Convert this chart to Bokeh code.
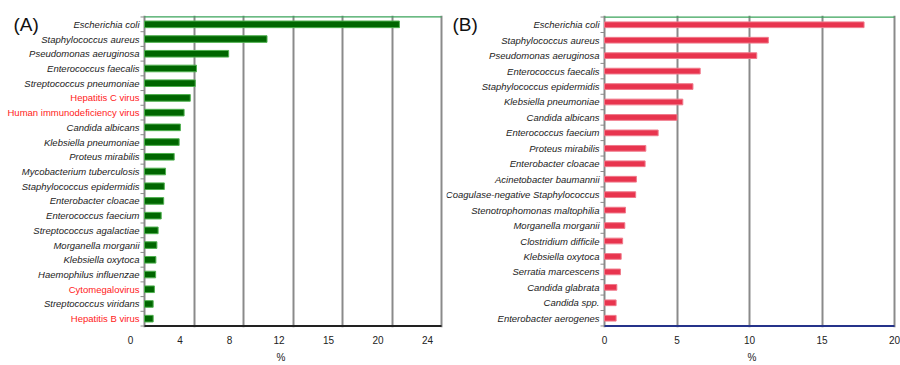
from bokeh.plotting import figure
from bokeh.models import (Range1d, FactorRange, FixedTicker, LinearAxis,
                          ColumnDataSource, Grid, Title)
from bokeh.core.properties import value
from bokeh.transform import dodge
from bokeh.layouts import row
from bokeh.embed import file_html
from bokeh.resources import INLINE

# ---------------- data ----------------
species_a = [
    "Escherichia coli", "Staphylococcus aureus", "Pseudomonas aeruginosa",
    "Enterococcus faecalis", "Streptococcus pneumoniae", "Hepatitis C virus",
    "Human immunodeficiency virus", "Candida albicans", "Klebsiella pneumoniae",
    "Proteus mirabilis", "Mycobacterium tuberculosis", "Staphylococcus epidermidis",
    "Enterobacter cloacae", "Enterococcus faecium", "Streptococcus agalactiae",
    "Morganella morganii", "Klebsiella oxytoca", "Haemophilus influenzae",
    "Cytomegalovirus", "Streptococcus viridans", "Hepatitis B virus",
]
values_a = [20.6, 9.9, 6.8, 4.2, 4.1, 3.7, 3.2, 2.9, 2.8, 2.4, 1.7, 1.6, 1.55,
            1.35, 1.1, 1.0, 0.92, 0.9, 0.8, 0.7, 0.7]
viruses_a = ["Hepatitis C virus", "Human immunodeficiency virus",
             "Cytomegalovirus", "Hepatitis B virus"]
ticks_a = [0, 4, 8, 12, 16, 20, 24]
tick_labels_a = ["0", "4", "8", "12", "15", "20", "24"]

species_b = [
    "Escherichia coli", "Staphylococcus aureus", "Pseudomonas aeruginosa",
    "Enterococcus faecalis", "Staphylococcus epidermidis", "Klebsiella pneumoniae",
    "Candida albicans", "Enterococcus faecium", "Proteus mirabilis",
    "Enterobacter cloacae", "Acinetobacter baumannii",
    "Coagulase-negative Staphylococcus", "Stenotrophomonas maltophilia",
    "Morganella morganii", "Clostridium difficile", "Klebsiella oxytoca",
    "Serratia marcescens", "Candida glabrata", "Candida spp.",
    "Enterobacter aerogenes",
]
values_b = [17.9, 11.3, 10.5, 6.6, 6.1, 5.4, 5.0, 3.7, 2.85, 2.8, 2.2, 2.15,
            1.45, 1.4, 1.25, 1.15, 1.1, 0.85, 0.8, 0.8]
viruses_b = []
ticks_b = [0, 5, 10, 15, 20]
tick_labels_b = ["0", "5", "10", "15", "20"]

FONT = "Liberation Sans"
GRID = "#8a8a8a"
TOPLINE = "#3aa35a"
TEXT = "#222222"


def panel(names, vals, red, ticks, tick_labels, label_shift, fill, edge,
          bottom_color, letter, W, px0, pxE, top_b, bar_h, letter_dx, pct_x):
    x_max = ticks[-1]
    scale = (pxE - px0) / x_max
    xs = -px0 / scale
    xe = x_max + (W - pxE) / scale
    yr = FactorRange(factors=list(reversed(names)), range_padding=0.1,
                     range_padding_units="absolute")
    p = figure(width=W, height=365, x_range=Range1d(xs, xe), y_range=yr,
               x_axis_location=None, y_axis_location=None,
               output_backend="svg", toolbar_location=None,
               min_border_left=0, min_border_right=0,
               min_border_top=top_b, min_border_bottom=38)
    p.outline_line_color = None
    p.background_fill_color = "white"
    p.border_fill_color = "white"
    for g in p.grid:
        g.visible = False
    p.add_layout(Grid(dimension=0, ticker=FixedTicker(ticks=ticks),
                      grid_line_color=GRID, grid_line_width=2), "center")

    src = ColumnDataSource(dict(
        name=names, val=vals,
        color=["#ff1a1a" if n in red else TEXT for n in names],
        style=["normal" if n in red else "italic" for n in names],
        zero=[0] * len(names),
        tick=[-4 / scale] * len(names),
    ))
    p.hbar(y="name", right="val", left=0, height=bar_h, source=src,
           fill_color=fill, line_color=edge, line_width=1)

    # small ticks of the category axis, at the category boundaries
    p.segment(x0="zero", x1="tick", y0=dodge("name", 0.5, range=yr),
              y1=dodge("name", 0.5, range=yr), source=src,
              line_color=GRID, line_width=1)
    bsrc = ColumnDataSource(dict(name=[names[-1]], x0=[0], x1=[x_max],
                                 tick=[-4 / scale], top=[names[0]]))
    p.segment(x0="x0", x1="tick", y0=dodge("name", -0.5, range=yr),
              y1=dodge("name", -0.5, range=yr), source=bsrc,
              line_color=GRID, line_width=1)

    # category labels
    p.text(x="zero", y="name", text="name", source=src, x_offset=-5,
           text_align="right", text_baseline="middle",
           text_font=value(FONT), text_font_size=value("9.5px"),
           text_color="color", text_font_style="style")

    # top (green) and bottom frame lines
    p.segment(x0="x0", x1="x1", y0=dodge("top", 0.5, range=yr),
              y1=dodge("top", 0.5, range=yr), source=bsrc,
              line_color=TOPLINE, line_width=1.3)
    p.segment(x0="x0", x1="x1", y0=dodge("name", -0.5, range=yr),
              y1=dodge("name", -0.5, range=yr), source=bsrc,
              line_color=bottom_color, line_width=2)

    # bottom axis: tick labels only
    kw = {}
    if label_shift:
        p.extra_x_ranges = {"lbl": Range1d(xs + label_shift, xe + label_shift)}
        kw["x_range_name"] = "lbl"
    bot = LinearAxis(ticker=FixedTicker(ticks=ticks),
                     major_label_overrides={t: l for t, l in zip(ticks, tick_labels)},
                     axis_line_color=None,
                     major_tick_out=0, major_tick_in=0,
                     minor_tick_out=0, minor_tick_in=0,
                     major_label_text_font=FONT, major_label_text_font_size="10px",
                     major_label_text_color=TEXT, major_label_standoff=8,
                     **kw)
    p.add_layout(bot, "below")
    p.add_layout(Title(text="%", align="left", offset=pct_x, standoff=6,
                       text_font=FONT, text_font_size="10px",
                       text_font_style="normal", text_color=TEXT), "below")

    lsrc = ColumnDataSource(dict(x=[0], y=[names[0]], t=[letter]))
    p.text(x="x", y="y", text="t", source=lsrc, x_offset=letter_dx,
           text_font=value(FONT), text_font_size=value("19px"),
           text_baseline="middle", text_align="left", text_color="#111111")
    return p


pa = panel(species_a, values_a, viruses_a, ticks_a, tick_labels_a, 1.13,
           "#006600", "#4fb04f", "#222222", "(A)", 446, 144, 441, 13, 0.45,
           -131, 276)
pb = panel(species_b, values_b, viruses_b, ticks_b, tick_labels_b, 0,
           "#e8344e", "#f07a8b", "#25338a", "(B)", 454, 158, 448, 15, 0.37,
           -152, 301)

layout = row(pa, pb)
open("out.html", "w").write(file_html(layout, INLINE))
